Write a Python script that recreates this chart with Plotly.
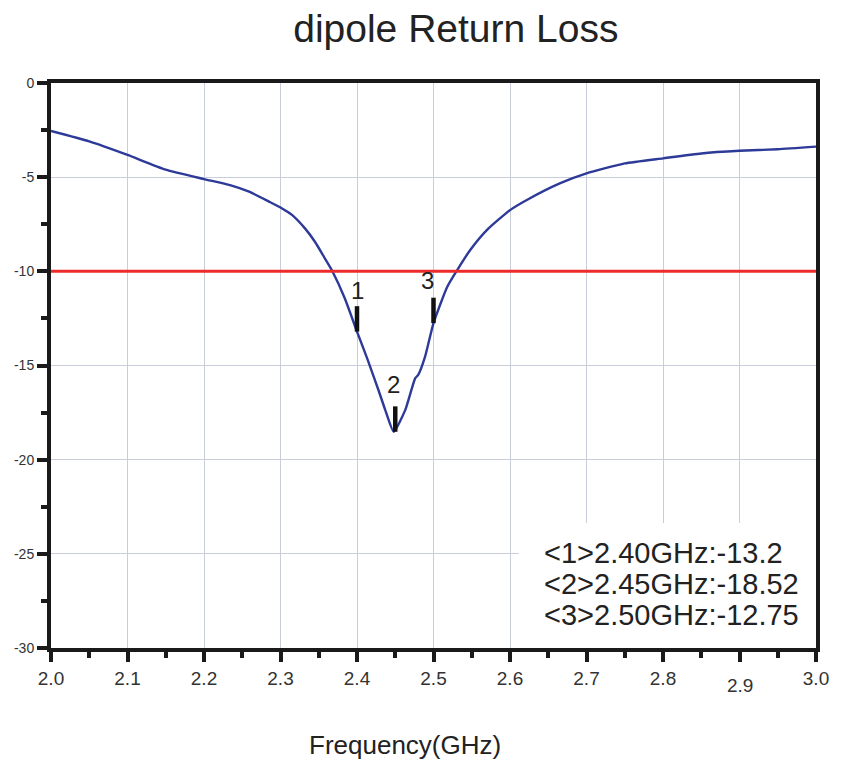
import plotly.graph_objects as go

# ---- data ----
freq = [2.0, 2.05, 2.1, 2.15, 2.2, 2.234, 2.259, 2.285, 2.302, 2.315, 2.332, 2.345, 2.358,
        2.367, 2.384, 2.4, 2.414, 2.428, 2.437, 2.448, 2.463, 2.476, 2.48, 2.489, 2.5,
        2.518, 2.531, 2.548, 2.57, 2.6, 2.622, 2.665, 2.7, 2.75, 2.8, 2.85, 2.9, 2.95, 3.0]
s11 = [-2.55, -3.1, -3.82, -4.6, -5.1, -5.42, -5.77, -6.3, -6.66, -7.0, -7.72, -8.43, -9.31,
       -9.93, -11.43, -13.2, -14.7, -16.3, -17.37, -18.52, -17.37, -15.68, -15.5, -14.53, -12.75,
       -10.82, -9.93, -8.87, -7.8, -6.75, -6.21, -5.33, -4.8, -4.27, -4.0, -3.74, -3.6, -3.52, -3.38]
threshold = -10
marker_ids = ["1", "2", "3"]
marker_freq = [2.40, 2.45, 2.50]
marker_val = [-13.2, -18.52, -12.75]
x_ticks = [2.0, 2.1, 2.2, 2.3, 2.4, 2.5, 2.6, 2.7, 2.8, 2.9, 3.0]
x_ticktext = ["2.0", "2.1", "2.2", "2.3", "2.4", "2.5", "2.6", "2.7", "2.8", "", "3.0"]
y_ticks = [0, -5, -10, -15, -20, -25, -30]
y_ticktext = ["0", "-5", "-10", "-15", "-20", "-25", "-30"]

FONT = "Liberation Sans, Arial"

fig = go.Figure()
fig.add_trace(go.Scatter(x=freq, y=s11, mode="lines",
                         line=dict(color="#2d3a98", width=2.4, shape="spline", smoothing=0.5),
                         showlegend=False, hoverinfo="skip"))
fig.add_trace(go.Scatter(x=[2.0, 3.0], y=[threshold, threshold], mode="lines",
                         line=dict(color="#ee2b2b", width=3), showlegend=False))
# marker bars
mx, my = [], []
for f, v in zip(marker_freq, marker_val):
    mx += [f, f, None]
    my += [v, v + 1.35, None]
fig.add_trace(go.Scatter(x=mx, y=my, mode="lines", line=dict(color="#111111", width=4.5),
                         showlegend=False))

label_dx = [0.0, -0.002, -0.008]
label_dy = [2.2, 2.5, 2.25]
for mid, f, v, dx, dy in zip(marker_ids, marker_freq, marker_val, label_dx, label_dy):
    fig.add_annotation(x=f + dx, y=v + dy, text=mid, showarrow=False,
                       font=dict(size=24, color="#222222", family=FONT))

# marker readout box
fig.add_shape(type="rect", xref="paper", yref="paper", x0=(522 - 50) / 772, x1=1.0,
              y0=0, y1=(648 - 523) / 565, fillcolor="white", line=dict(width=0), layer="above")
line_px = [553, 584, 615]
for m, f, v, py in zip(marker_ids, marker_freq, marker_val, line_px):
    fig.add_annotation(xref="paper", yref="paper", x=(545 - 50) / 772, y=(648 - py) / 565,
                       xanchor="left", yanchor="middle", showarrow=False,
                       text=f"&lt;{m}&gt;{f:.2f}GHz:{v:g}",
                       font=dict(size=29, color="#222222", family=FONT))

# shifted 2.9 tick label
fig.add_annotation(x=2.9, y=0, yref="paper", yanchor="middle", yshift=-37, text="2.9",
                   showarrow=False, font=dict(size=19, color="#333333", family=FONT))

# x axis title
fig.add_annotation(xref="paper", yref="paper", x=(407 - 50) / 772, y=(648 - 745) / 565,
                   yanchor="middle", showarrow=False, text="Frequency(GHz)",
                   font=dict(size=26, color="#222222", family=FONT))

axis_common = dict(showline=True, linewidth=4, linecolor="#1a1a1a", mirror=True,
                   ticks="outside", tickwidth=4, tickcolor="#1a1a1a", ticklen=10,
                   showgrid=True, gridcolor="#c9ccd9", gridwidth=1, zeroline=False)

fig.update_xaxes(range=[2.0, 3.0], tickmode="array", tickvals=x_ticks, ticktext=x_ticktext,
                 tickfont=dict(size=19, color="#333333", family=FONT),
                 minor=dict(dtick=0.05, ticks="outside", ticklen=6, tickwidth=4,
                            tickcolor="#1a1a1a", showgrid=False),
                 **axis_common)
fig.update_yaxes(range=[-30, 0], tickmode="array", tickvals=y_ticks, ticktext=y_ticktext,
                 tickfont=dict(size=14, color="#333333", family=FONT),
                 minor=dict(dtick=2.5, ticks="outside", ticklen=6, tickwidth=4,
                            tickcolor="#1a1a1a", showgrid=False),
                 **axis_common)

fig.update_layout(
    width=841, height=765,
    margin=dict(l=51, r=19, t=83, b=117),
    paper_bgcolor="white", plot_bgcolor="white",
    title=dict(text="dipole Return Loss", x=0.542, xanchor="center", y=0.963, yanchor="middle",
               font=dict(size=39, color="#222222", family=FONT)),
)

fig.write_html("out.html")
